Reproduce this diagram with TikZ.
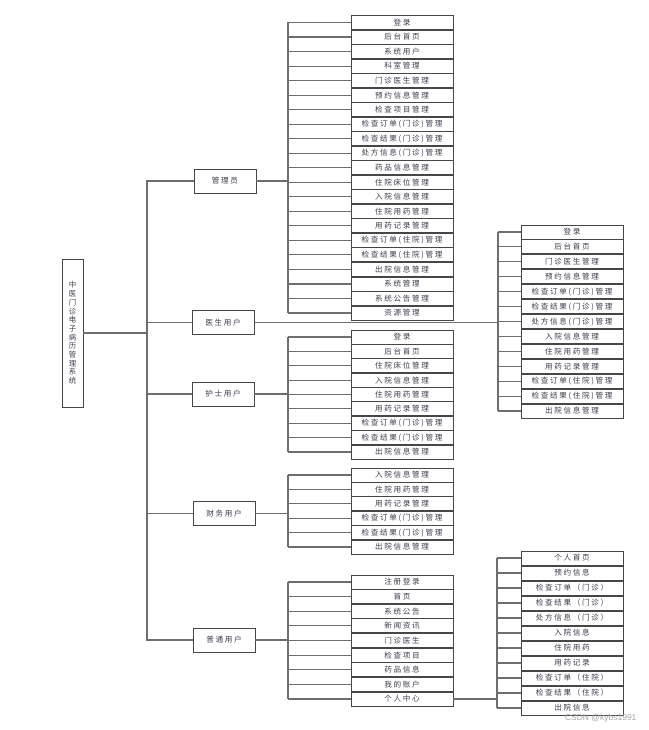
\documentclass[tikz,border=0pt]{standalone}
\usepackage{fontspec}
\newfontfamily\cjk[LetterSpace=22]{Noto Sans CJK SC}
\newfontfamily\cjkplain{Noto Sans CJK SC}
\setmainfont{Liberation Sans}
\definecolor{txt}{RGB}{60,60,78}
\definecolor{bord}{RGB}{70,70,70}
\definecolor{lin}{RGB}{110,110,110}
\begin{document}
\begin{tikzpicture}[x=1pt,y=-1pt,
  item/.style={draw=bord,line width=0.9pt,fill=white,minimum width=102pt,minimum height=14pt,
    inner sep=0pt,font=\cjk\fontsize{7.6}{8}\selectfont,text=txt},
  midbox/.style={draw=bord,line width=0.9pt,fill=white,minimum width=62pt,minimum height=24pt,
    inner sep=0pt,font=\cjk\fontsize{7.6}{8}\selectfont,text=txt},
  conn/.style={draw=lin,line width=1.1pt}]
\useasboundingbox (0,0) rectangle (648,730);
% root
\node[draw=bord,line width=0.9pt,minimum width=21pt,minimum height=148pt,inner sep=0pt,
  font=\cjkplain\fontsize{7.4}{8.7}\selectfont,text=txt,align=center] (root) at (72.5,333)
  {中\\医\\门\\诊\\电\\子\\病\\历\\管\\理\\系\\统};
% middle level
\node[midbox] (admin) at (225,181) {管理员};
\node[midbox] (doc) at (223,322.5) {医生用户};
\node[midbox] (nurse) at (223,394) {护士用户};
\node[midbox] (fin) at (224,513.5) {财务用户};
\node[midbox] (usr) at (224,640) {普通用户};
\coordinate (trunk) at (147,333);
\draw[conn] (root.east) -- (trunk);
\draw[conn] (trunk) |- (admin.west);
\draw[conn] (trunk) |- (usr.west);
\draw[conn] (trunk |- doc.west) -- (doc.west);
\draw[conn] (trunk) |- (nurse.west);
\draw[conn] (trunk) |- (fin.west);
% brackets
\coordinate (abr) at (288,181);
\coordinate (dbr) at (498,322.5);
\coordinate (nbr) at (288,394);
\coordinate (fbr) at (288,510);
\coordinate (ubr) at (288,640);
\coordinate (pbr) at (497,699);
% admin list
\foreach \t [count=\i] in {登录,后台首页,系统用户,科室管理,门诊医生管理,预约信息管理,检查项目管理,检查订单(门诊)管理,检查结果(门诊)管理,处方信息(门诊)管理,药品信息管理,住院床位管理,入院信息管理,住院用药管理,用药记录管理,检查订单(住院)管理,检查结果(住院)管理,出院信息管理,系统管理,系统公告管理,资源管理}
{ \node[item] (a\i) at (402,{22.5+(\i-1)*14.525}) {\t};
  \draw[conn] (abr |- a\i.west) -- (a\i.west); }
\draw[conn] (abr |- a1.west) -- (abr |- a21.west);
\draw[conn] (admin.east) -- (abr);
% doctor list
\foreach \t [count=\i] in {登录,后台首页,门诊医生管理,预约信息管理,检查订单(门诊)管理,检查结果(门诊)管理,处方信息(门诊)管理,入院信息管理,住院用药管理,用药记录管理,检查订单(住院)管理,检查结果(住院)管理,出院信息管理}
{ \node[item] (d\i) at (572,{232+(\i-1)*14.92}) {\t};
  \draw[conn] (dbr |- d\i.west) -- (d\i.west); }
\draw[conn] (dbr |- d1.west) -- (dbr |- d13.west);
\draw[conn] (doc.east) -- (dbr);
% nurse list
\foreach \t [count=\i] in {登录,后台首页,住院床位管理,入院信息管理,住院用药管理,用药记录管理,检查订单(门诊)管理,检查结果(门诊)管理,出院信息管理}
{ \node[item] (n\i) at (402,{337+(\i-1)*14.375}) {\t};
  \draw[conn] (nbr |- n\i.west) -- (n\i.west); }
\draw[conn] (nbr |- n1.west) -- (nbr |- n9.west);
\draw[conn] (nurse.east) -- (nbr);
% finance list
\foreach \t [count=\i] in {入院信息管理,住院用药管理,用药记录管理,检查订单(门诊)管理,检查结果(门诊)管理,出院信息管理}
{ \node[item] (f\i) at (402,{475+(\i-1)*14.4}) {\t};
  \draw[conn] (fbr |- f\i.west) -- (f\i.west); }
\draw[conn] (fbr |- f1.west) -- (fbr |- f6.west);
\draw[conn] (fin.east) -- (fin.east -| fbr);
% user list
\foreach \t [count=\i] in {注册登录,首页,系统公告,新闻资讯,门诊医生,检查项目,药品信息,我的账户,个人中心}
{ \node[item] (u\i) at (402,{582+(\i-1)*14.625}) {\t};
  \draw[conn] (ubr |- u\i.west) -- (u\i.west); }
\draw[conn] (ubr |- u1.west) -- (ubr |- u9.west);
\draw[conn] (usr.east) -- (ubr);
% personal centre list
\foreach \t [count=\i] in {个人首页,预约信息,检查订单（门诊）,检查结果（门诊）,处方信息（门诊）,入院信息,住院用药,用药记录,检查订单（住院）,检查结果（住院）,出院信息}
{ \node[item] (p\i) at (572,{558+(\i-1)*15}) {\t};
  \draw[conn] (pbr |- p\i.west) -- (p\i.west); }
\draw[conn] (pbr |- p1.west) -- (pbr |- p11.west);
\draw[conn] (u9.east) -- (pbr);
% watermark
\node[font=\fontsize{8.5}{9}\selectfont,text=black!35,anchor=east] (wm) at (640,718) {CSDN @kybs1991};
\end{tikzpicture}
\end{document}
